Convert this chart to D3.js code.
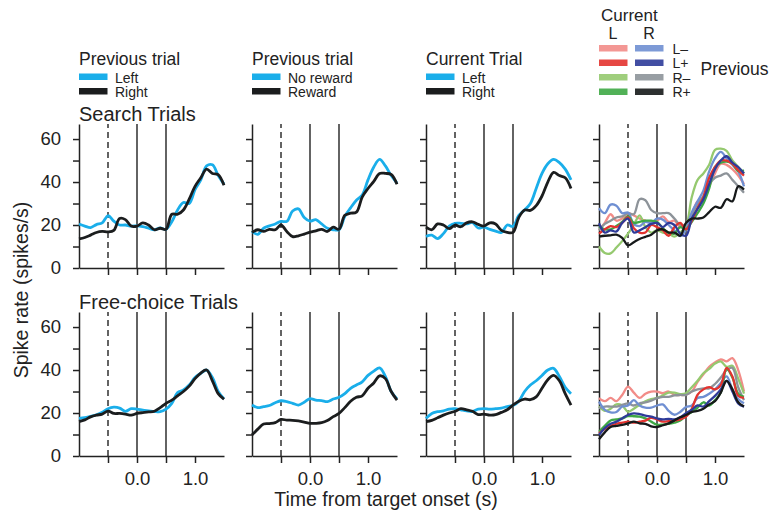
<!DOCTYPE html>
<html>
<head>
<meta charset="utf-8">
<script src="https://cdn.jsdelivr.net/npm/d3@7"></script>
<style>
    body { margin: 0; background: #ffffff; }
    text { font-family: "Liberation Sans", Arial, sans-serif; fill: #222; }
</style>
</head>
<body>
<div id="chart"></div>
<script>
// time from target onset (s), same sampling for every curve
const times = [-1.0, -0.9, -0.8, -0.7, -0.6, -0.5, -0.4, -0.3, -0.2, -0.1, 0.0, 0.1, 0.2,
    0.3, 0.4, 0.5, 0.6, 0.7, 0.8, 0.9, 1.0, 1.1, 1.2, 1.3, 1.4, 1.5];
const xTicks = [-0.5, 0.0, 0.5, 1.0];
const xTickLabels = ['', '0.0', '', '1.0'];
const yTicks = [0, 10, 20, 30, 40, 50, 60];
const yTickLabels = ['0', '', '20', '', '40', '', '60'];
const eventLines = [-0.5, 0.0, 0.5];   // first one dashed

const rowTitles = ['Search Trials', 'Free-choice Trials'];
const legendTitles = ['Previous trial', 'Previous trial', 'Current Trial'];
const legendNames = [['Left', 'Right'], ['No reward', 'Reward'], ['Left', 'Right']];
const comboCols = ['L', 'R'];
const comboRows = ['L\u2013', 'L+', 'R\u2013', 'R+'];

// search trials
const searchPrevLeft = [20.5, 19.5, 18.8, 20.2, 21, 24.3, 21.8, 20, 20, 19.5, 19.6, 19.2, 18.5, 17.8, 18.6, 18, 21.5, 27, 30.5, 30, 36.5, 41, 47.5, 48, 43, 39];
const searchPrevRight = [13.5, 14.2, 15.3, 16.5, 17, 16.8, 17.5, 23, 22.5, 19.5, 19.5, 21, 20, 17.8, 18.5, 18, 25, 25, 27, 32, 38, 42, 46, 44, 43.5, 38.5];
const searchNoReward = [17, 15.7, 18.5, 19.6, 20.5, 21.7, 21.7, 26.5, 27.5, 23.5, 21.8, 22.5, 20.5, 18.5, 17.8, 17.8, 24, 28, 31.5, 34, 41, 47, 50.5, 47.5, 43, 39.5];
const searchReward = [16.6, 17.8, 17, 18, 17.8, 20, 17, 14.6, 15, 15.8, 16.7, 17.3, 18, 17, 19, 18, 24.5, 25.5, 26, 33, 37, 40.3, 44, 44, 43.5, 39];
const searchCurLeft = [14.7, 15.3, 13.7, 16, 19.5, 20.8, 20.8, 20.5, 21.2, 18.6, 19, 18, 17.2, 16.5, 20, 19.4, 24.5, 27, 30, 37, 44, 48.5, 50.5, 49, 46, 41];
const searchCurRight = [19, 17.8, 20.5, 20, 18.3, 20, 19.2, 21, 21.5, 20.3, 19.5, 21, 20.5, 17.5, 16.6, 16.6, 23.5, 27, 26.8, 29, 33.5, 40, 44.5, 43, 42, 37];
// search trials, current L / R split by previous choice and outcome
const searchLLminus = [17.7, 21, 25, 22, 23, 25.5, 24.5, 23, 22, 21.5, 22, 24, 21.5, 22, 19, 20.5, 25, 31, 32, 38, 44, 48.5, 48, 46, 43, 39];
const searchLLplus = [16, 18, 19.5, 19, 21, 23.5, 18.5, 16.5, 16.5, 20, 19, 17.5, 15, 19, 21, 18, 22, 28, 33, 42, 47, 50, 50, 48.5, 45.5, 43];
const searchLRminus = [10, 7, 6.8, 9.5, 12.5, 16, 20, 24.5, 19, 16.5, 17.5, 16.5, 16, 14.6, 16.5, 19.3, 33, 41, 44, 48, 55, 55.5, 54.5, 50, 47, 44];
const searchLRplus = [19.3, 18, 18, 19.5, 21.5, 24, 21, 21.5, 22, 22, 21.5, 18.5, 16.5, 16, 19, 18, 21.5, 25.5, 30, 37, 47, 49, 49.5, 48.5, 45, 45.5];
const searchRLminus = [27.8, 25.5, 29.5, 29, 25.5, 25.8, 20.5, 19.5, 21.5, 21, 23, 22.5, 20, 17.5, 14.8, 17.8, 26, 31, 36, 45, 51, 54, 51, 48, 45, 38];
const searchRLplus = [20.8, 16.5, 17.5, 17, 21, 23, 16.5, 17.5, 19, 20.5, 21, 19, 21, 20, 16, 15, 23, 27.5, 32, 39, 46, 50, 52, 49, 47, 44];
const searchRRminus = [17.7, 20.5, 22, 23.5, 24, 25.5, 25, 32, 31.5, 27, 25.5, 25.5, 25.5, 23, 20, 20.5, 25, 30, 33.5, 39, 42, 43, 44, 41, 38, 35];
const searchRRplus = [14.6, 15, 15.2, 15.5, 14, 10.5, 12, 13.5, 14.5, 15.5, 17.5, 18, 16.5, 16.5, 15, 21, 23, 23, 23.5, 26, 28.5, 28, 32, 31, 38, 36.5];

// free-choice trials
const freePrevLeft = [17.5, 17.8, 18.5, 19.2, 20.3, 22, 22.7, 22.3, 20.8, 22, 21.8, 21.3, 21, 20.7, 20.6, 21.8, 24.5, 29.5, 30.7, 33, 36.5, 38.5, 40, 36.5, 30, 26.5];
const freePrevRight = [16, 16.8, 18.2, 19, 19.5, 20.9, 19.8, 19.8, 19.5, 19, 19.8, 20.2, 20.5, 20.8, 22.5, 24.5, 26, 28, 30, 32.5, 36, 38.6, 40, 35, 29, 26.4];
const freeNoReward = [23.7, 22.5, 23, 23.5, 24.8, 25.7, 25.3, 24.5, 23.7, 25, 26.7, 26, 25.8, 25.3, 26.5, 27.3, 29, 31.5, 33, 34.5, 37.5, 39.5, 41, 37, 30, 26.5];
const freeReward = [9.8, 12.5, 14.9, 15.1, 15.5, 17, 16.7, 16.6, 16.3, 15.8, 15.2, 15.2, 15.5, 16.5, 18.3, 19.8, 22.5, 25.5, 27.3, 28, 31.5, 34, 37.3, 36, 30, 26];
const freeCurLeft = [17.5, 19.8, 20.6, 21, 21.8, 22, 21.5, 21, 20.7, 21.8, 22, 21.8, 22, 22.3, 23, 23.5, 25.5, 30, 33, 35, 37.5, 40, 40.8, 37, 32, 29];
const freeCurRight = [16, 16.6, 17.8, 19, 20, 20.8, 22, 21.5, 20.8, 19.3, 19.5, 19, 19.2, 20.3, 21.5, 23.7, 25.5, 26.5, 26.2, 27.5, 31.5, 35.5, 37.5, 35, 29, 23.7];
const freeLLminus = [26.9, 25.5, 27, 25.5, 28.4, 32.3, 29.5, 27, 29, 30, 30, 29.2, 30, 28.5, 28.4, 28.5, 30, 34.5, 38, 41.5, 43.5, 45, 44, 45.5, 40, 30];
const freeLLplus = [10.6, 12.5, 14, 15, 15.5, 16, 15.5, 16, 16.5, 17.8, 17, 16, 16.2, 16.5, 17, 18.3, 22, 28.5, 31, 32, 31, 33, 41, 37, 28, 27];
const freeLRminus = [23, 21, 22, 24, 23.5, 20.6, 22, 23.8, 25.5, 26.5, 27, 28.2, 29.5, 29.5, 28.8, 29.2, 32, 35, 38.5, 40.5, 43, 44, 41.5, 42, 36, 29];
const freeLRplus = [11.3, 14, 16.5, 17, 17.5, 18.5, 18.5, 18.3, 17.5, 16, 14.6, 14.6, 15, 15.5, 16.5, 19, 20.5, 22.5, 25, 23.5, 26, 29.5, 40.5, 36.5, 29, 27.5];
const freeRLminus = [25.3, 21.5, 20.3, 20.5, 23, 23.5, 26, 23.5, 22.5, 22.5, 23.5, 24, 21, 19.2, 20.5, 22.8, 23.5, 27, 27.5, 29, 31, 34, 37, 31, 26.5, 24.5];
const freeRLplus = [9.8, 13, 15, 16, 17.5, 19.1, 19.8, 19.5, 18.8, 18.3, 17.5, 17, 17.3, 17, 18, 19.9, 21.5, 23.5, 23, 25.5, 28, 31, 35, 30, 24.5, 23];
const freeRRminus = [22.2, 23, 23, 23, 23.8, 24.5, 23.5, 24.5, 25, 25.8, 26.9, 27.5, 27.5, 28.2, 28.4, 28.4, 30, 31, 31.5, 31.5, 33.5, 36.5, 40, 41, 32, 26];
const freeRRplus = [7.8, 11, 13.5, 14, 14.5, 15.2, 16, 15.2, 15, 13.8, 13.5, 14.3, 15.2, 16.5, 18, 19.1, 20.5, 21, 22, 24, 25.5, 29.5, 35, 31, 25, 23];

const cyan = '#1aaeea';
const dark = '#1b1d1e';
// [current L column, current R column] for previous L-, L+, R-, R+
const comboColors = [
    ['#f28c88', '#6f8fd2'],
    ['#e3332f', '#2e3b99'],
    ['#95c96f', '#8d9399'],
    ['#3ea845', '#16191a']
];

const panelLeft = [79, 252, 426, 599];
const panelWidth = 145;
const rowBase = [268, 456];
const rowTop = [124, 312];

let svg = d3.select('#chart')
    .append('svg')
    .attr('width', 778)
    .attr('height', 514);

function twoLines(a, b) {
    return [{ values: a, color: cyan, width: 2.8 }, { values: b, color: dark, width: 2.8 }];
}

function comboLines(s) {
    // drawing order, black last so it sits on top
    return [
        { values: s.LLminus, color: comboColors[0][0] },
        { values: s.LRminus, color: comboColors[2][0] },
        { values: s.RRminus, color: comboColors[2][1] },
        { values: s.RLminus, color: comboColors[0][1] },
        { values: s.LRplus, color: comboColors[3][0] },
        { values: s.LLplus, color: comboColors[1][0] },
        { values: s.RLplus, color: comboColors[1][1] },
        { values: s.RRplus, color: comboColors[3][1] }
    ].map(function (d) { d.width = 2.3; return d; });
}

const panels = [
    [twoLines(searchPrevLeft, searchPrevRight), twoLines(searchNoReward, searchReward), twoLines(searchCurLeft, searchCurRight),
        comboLines({ LLminus: searchLLminus, LLplus: searchLLplus, LRminus: searchLRminus, LRplus: searchLRplus,
            RLminus: searchRLminus, RLplus: searchRLplus, RRminus: searchRRminus, RRplus: searchRRplus })],
    [twoLines(freePrevLeft, freePrevRight), twoLines(freeNoReward, freeReward), twoLines(freeCurLeft, freeCurRight),
        comboLines({ LLminus: freeLLminus, LLplus: freeLLplus, LRminus: freeLRminus, LRplus: freeLRplus,
            RLminus: freeRLminus, RLplus: freeRLplus, RRminus: freeRRminus, RRplus: freeRRplus })]
];

function drawPanel(row, col) {
    let x = d3.scaleLinear().domain([-1.0, 1.5]).range([panelLeft[col], panelLeft[col] + panelWidth]);
    let y = d3.scaleLinear().domain([0, 67]).range([rowBase[row], rowTop[row]]);
    let g = svg.append('g');

    // event markers
    eventLines.forEach(function (t, i) {
        g.append('line')
            .attr('x1', x(t)).attr('x2', x(t))
            .attr('y1', y(0)).attr('y2', y(67))
            .attr('stroke', '#222')
            .attr('stroke-width', 1.4)
            .attr('stroke-dasharray', i === 0 ? '6,4' : null);
    });

    let xAxis = d3.axisBottom(x)
        .tickValues(xTicks)
        .tickSize(7)
        .tickSizeOuter(0)
        .tickPadding(9)
        .tickFormat(function (d, i) { return row === 1 ? xTickLabels[i] : ''; });
    let yAxis = d3.axisLeft(y)
        .tickValues(yTicks)
        .tickSize(6)
        .tickSizeOuter(0)
        .tickPadding(12)
        .tickFormat(function (d, i) { return col === 0 ? yTickLabels[i] : ''; });

    g.append('g').attr('transform', 'translate(0,' + rowBase[row] + ')').call(xAxis);
    g.append('g').attr('transform', 'translate(' + panelLeft[col] + ',0)').call(yAxis);
    g.selectAll('.domain, .tick line').attr('stroke', '#222').attr('stroke-width', 1.5);
    g.selectAll('.tick text').style('font-size', '18.5px').attr('fill', '#222');

    let line = d3.line()
        .x(function (d, i) { return x(times[i]); })
        .y(function (d) { return y(d); })
        .curve(d3.curveCatmullRom.alpha(0.5));

    g.selectAll('path.trace')
        .data(panels[row][col])
        .enter()
        .append('path')
        .attr('class', 'trace')
        .attr('d', function (d) { return line(d.values); })
        .attr('fill', 'none')
        .attr('stroke', function (d) { return d.color; })
        .attr('stroke-width', function (d) { return d.width; })
        .attr('stroke-linejoin', 'round');
}

for (let r = 0; r < 2; r++) {
    for (let c = 0; c < 4; c++) {
        drawPanel(r, c);
    }
    svg.append('text')
        .attr('x', panelLeft[0])
        .attr('y', rowTop[r] - 3)
        .style('font-size', '20px')
        .text(rowTitles[r]);
}

// legends for the three two-line panels
for (let c = 0; c < 3; c++) {
    let lx = panelLeft[c];
    svg.append('text')
        .attr('x', lx).attr('y', 65)
        .style('font-size', '17.5px')
        .text(legendTitles[c]);
    [cyan, dark].forEach(function (color, i) {
        svg.append('rect')
            .attr('x', lx).attr('y', 73.5 + i * 14.5)
            .attr('width', 28.5).attr('height', 6.5)
            .attr('fill', color);
        svg.append('text')
            .attr('x', lx + 36).attr('y', 82.5 + i * 14.5)
            .style('font-size', '14px')
            .text(legendNames[c][i]);
    });
}

// legend grid for the split panel
let cx = panelLeft[3];
svg.append('text').attr('x', cx + 2).attr('y', 21).style('font-size', '17px').text('Current');
comboCols.forEach(function (name, j) {
    svg.append('text')
        .attr('x', cx + 14 + j * 36).attr('y', 39)
        .attr('text-anchor', 'middle')
        .style('font-size', '16px')
        .text(name);
});
comboRows.forEach(function (name, i) {
    comboColors[i].forEach(function (color, j) {
        svg.append('rect')
            .attr('x', cx + j * 36).attr('y', 45 + i * 14.5)
            .attr('width', 28.5).attr('height', 6.5)
            .attr('fill', color)
            .attr('opacity', 0.9);
    });
    svg.append('text')
        .attr('x', cx + 73.5).attr('y', 53.5 + i * 14.5)
        .style('font-size', '14px')
        .text(name);
});
svg.append('text').attr('x', cx + 101.5).attr('y', 75).style('font-size', '17.5px').text('Previous');

// shared axis titles
svg.append('text')
    .attr('transform', 'translate(28,290) rotate(-90)')
    .attr('text-anchor', 'middle')
    .style('font-size', '19.5px')
    .text('Spike rate (spikes/s)');
svg.append('text')
    .attr('x', 386).attr('y', 506)
    .attr('text-anchor', 'middle')
    .style('font-size', '19.5px')
    .text('Time from target onset (s)');
</script>
</body>
</html>
